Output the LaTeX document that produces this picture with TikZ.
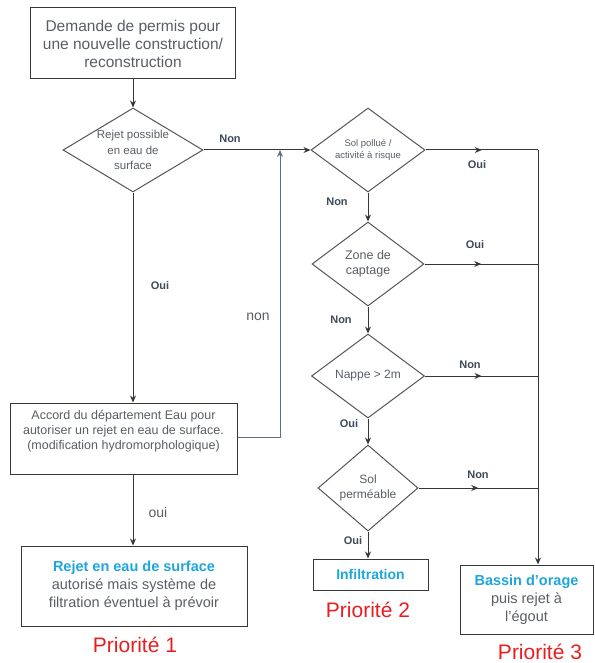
\documentclass[tikz,border=0pt]{standalone}
\usepackage{fontspec}
\setmainfont{Liberation Sans}
\usepackage{xcolor}
\usepackage{tikz}
\usetikzlibrary{arrows.meta,shapes.geometric,decorations.markings}
\definecolor{FlowText} {RGB}{ 88, 94,100}
\definecolor{FlowLabel}{RGB}{ 62, 74, 88}
\definecolor{FlowLine} {RGB}{ 55, 55, 55}
\definecolor{FlowBack} {RGB}{ 95,110,125}
\definecolor{FlowBlue} {RGB}{ 30,165,220}
\definecolor{FlowRed}  {RGB}{232, 30, 30}
\tikzset{
  flowbox/.style={draw=FlowLine, line width=1pt, rectangle, align=center,
    text=FlowText, inner sep=2pt},
  decision/.style={draw=FlowLine!85, line width=1pt, diamond, inner sep=0pt},
  dtext/.style={text=FlowText, align=center},
  flow/.style={draw=FlowLine, line width=1pt, -{Stealth[length=7pt,width=6pt]}},
  midflow/.style={draw=FlowLine, line width=1pt, postaction={decorate},
    decoration={markings, mark=at position 0.5 with {\arrow{Stealth[length=7pt,width=6pt]}}}},
  answer/.style={text=FlowLabel, font=\fontsize{11}{13}\selectfont\bfseries},
  priority/.style={text=FlowRed, font=\fontsize{21}{24}\selectfont},
}
\begin{document}
\begin{tikzpicture}[x=1pt,y=-1pt]
      \useasboundingbox (0,0) rectangle (594,663);
      % left column
      \node[flowbox, minimum width=205pt, minimum height=71pt,
            font=\fontsize{15.5}{18}\selectfont]
        (demande) at (133,43.5)
        {Demande de permis pour\\une nouvelle construction/\\reconstruction};
      \node[decision, minimum width=140pt, minimum height=84pt,
            label={[dtext, font=\fontsize{11.5}{15.5}\selectfont]center:{Rejet possible\\en eau de\\surface}}]
        (surface) at (133,150) {};
      \node[flowbox, minimum width=227pt, minimum height=71pt,
            font=\fontsize{12.5}{15}\selectfont]
        (accord) at (123.5,438.5)
        {Accord du département Eau pour\\autoriser un rejet en eau de surface.\\(modification hydromorphologique)\\[2pt]~};
      \node[flowbox, minimum width=226pt, minimum height=80pt,
            font=\fontsize{14.5}{18}\selectfont]
        (rejet) at (134,586)
        {\textcolor{FlowBlue}{\bfseries Rejet en eau de surface}\\autorisé mais système de\\filtration éventuel à prévoir};
      \node[priority] (prio1) at (135,645) {Priorité 1};
      % right column
      \node[decision, minimum width=114pt, minimum height=84pt,
            label={[dtext, font=\fontsize{9.5}{12}\selectfont]center:{Sol pollué /\\activité à risque}}]
        (pollue) at (368,150) {};
      \node[decision, minimum width=112pt, minimum height=84pt,
            label={[dtext, font=\fontsize{12.5}{15}\selectfont]center:{Zone de\\captage}}]
        (captage) at (368,264) {};
      \node[decision, minimum width=113pt, minimum height=84pt,
            label={[dtext, font=\fontsize{12}{15}\selectfont]center:{Nappe > 2m}}]
        (nappe) at (368,376) {};
      \node[decision, minimum width=100pt, minimum height=86pt,
            label={[dtext, font=\fontsize{12}{15}\selectfont]center:{Sol\\perméable}}]
        (permeable) at (368,488) {};
      \node[flowbox, minimum width=115pt, minimum height=31pt,
            font=\fontsize{14}{17}\selectfont\bfseries, text=FlowBlue]
        (infil) at (370.5,574.5) {Infiltration};
      \node[priority] (prio2) at (368,610) {Priorité 2};
      \node[flowbox, minimum width=133pt, minimum height=69pt,
            font=\fontsize{14.5}{18}\selectfont]
        (bassin) at (526.5,599.5)
        {\textcolor{FlowBlue}{\bfseries Bassin d’orage}\\puis rejet à\\l’égout};
      \node[priority] (prio3) at (540,652) {Priorité 3};
      % junction points
      \coordinate (rail) at (538,150);
      \coordinate (back) at (280,150);
      % connectors
      \draw[flow] (demande) -- (surface);
      \draw[flow] (surface.east) -- (pollue.west);
      \draw[flow] (surface.south) -- (surface.south |- accord.north);
      \draw[flow, draw=FlowBack] (accord.east |- 0,437) -| (back);
      \draw[flow] (surface.south |- accord.south) -- (surface.south |- rejet.north);
      \draw[flow] (pollue) -- (captage);
      \draw[flow] (captage) -- (nappe);
      \draw[flow] (nappe) -- (permeable);
      \draw[flow] (permeable.south) -- (permeable.south |- infil.north);
      \draw[midflow] (pollue.east) -- (rail);
      \draw[midflow] (captage.east) -- (captage -| rail);
      \draw[midflow] (nappe.east) -- (nappe -| rail);
      \draw[midflow] (permeable.east) -- (permeable -| rail);
      \draw[flow] (rail) -- (rail |- bassin.north);
      % answers
      \node[answer] (a1) at (230,139) {Non};
      \node[answer] (a2) at (160,286) {Oui};
      \node[text=FlowText, font=\fontsize{14}{16}\selectfont] (a3) at (258,317) {non};
      \node[text=FlowText, font=\fontsize{14}{16}\selectfont] (a4) at (158,512) {oui};
      \node[answer] (a5) at (477,165) {Oui};
      \node[answer] (a6) at (337,202) {Non};
      \node[answer] (a7) at (475,245) {Oui};
      \node[answer] (a8) at (341,320) {Non};
      \node[answer] (a9) at (470,365) {Non};
      \node[answer] (a10) at (349,424) {Oui};
      \node[answer] (a11) at (478,475) {Non};
      \node[answer] (a12) at (353,541) {Oui};
    \end{tikzpicture}
\end{document}
